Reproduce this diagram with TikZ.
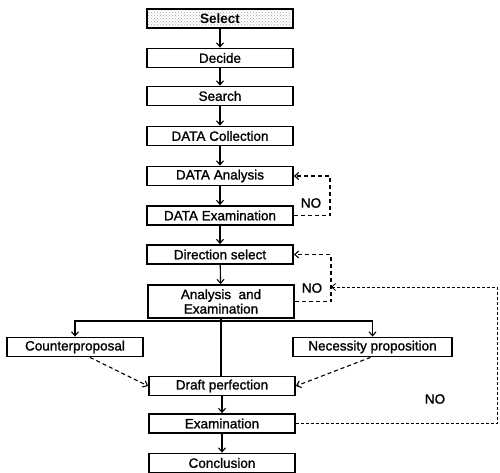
\documentclass[tikz,border=0pt]{standalone}
\usepackage{fontspec}
\setmainfont{Liberation Sans}
\newfontfamily\boxfont{Liberation Sans}[FakeBold=1.2]
\usetikzlibrary{arrows.meta,patterns}

\begin{document}
\begin{tikzpicture}[x=1pt,y=-1pt,->,>={Straight Barb[length=4pt,width=7pt]},line width=1.1pt,
  main node/.style={rectangle,draw,line width=1.8pt,minimum width=146pt,minimum height=19pt,inner sep=0pt,font=\fontsize{13.5}{14.5}\boxfont},
  start node/.style={main node,pattern=crosshatch dots,pattern color=gray!70,font=\fontsize{13.5}{14.5}\selectfont\bfseries},
  no path/.style={dashed,dash pattern=on 4pt off 3pt},
  no label/.style={font=\fontsize{13.5}{14.5}\boxfont}]

  \useasboundingbox (0,0) rectangle (500,473);

  \node[start node] (select) at (220,18.5) {Select};
  \node[main node] (decide) at (220,58) {Decide};
  \node[main node] (search) at (220,96) {Search};
  \node[main node] (coll) at (220,136) {DATA Collection};
  \node[main node] (ana) at (220,176) {DATA Analysis};
  \node[main node] (exa) at (220,215.5) {DATA Examination};
  \node[main node] (dir) at (220,254.5) {Direction select};
  \node[main node,minimum height=33pt,align=center] (ae) at (221,301.5) {Analysis~~and\\Examination};
  \node[main node,minimum width=136pt] (cp) at (75,347) {Counterproposal};
  \node[main node,minimum width=159pt] (np) at (372.5,347) {Necessity proposition};
  \node[main node] (draft) at (222,386) {Draft perfection};
  \node[main node] (exam) at (222,423.5) {Examination};
  \node[main node] (concl) at (222,463) {Conclusion};

  \coordinate (split) at (221,321);
  \coordinate (loopa) at (330,176);
  \coordinate (loopb) at (331,254.5);
  \coordinate (loopc) at (497,287);

  \path
    (select) edge (decide)
    (decide) edge (search)
    (search) edge (coll)
    (coll) edge (ana)
    (ana) edge (exa)
    (exa) edge (dir)
    (dir) edge (ae)
    (draft) edge (exam)
    (exam) edge (concl);

  \draw[-] (ae.south) -- (ae.south |- draft.north);
  \draw (split) -| (cp.north);
  \draw (split) -| (np.north);

  \draw[no path] ([xshift=15pt]cp.south) -- (draft.west);
  \draw[no path] ([xshift=-2pt]np.south) -- (draft.east);

  \draw[no path] (exa.east) -| (loopa) -- (ana.east);
  \draw[no path] (ae.east) -| (loopb) -- (dir.east);
  \draw[no path,line width=0.8pt,dash pattern=on 3pt off 2pt] (exam.east) -| (loopc) -- (loopb |- loopc);

  \node[no label] (noa) at (311,203) {NO};
  \node[no label] (nob) at (312,288) {NO};
  \node[no label] (noc) at (435,399) {NO};
\end{tikzpicture}
\end{document}
